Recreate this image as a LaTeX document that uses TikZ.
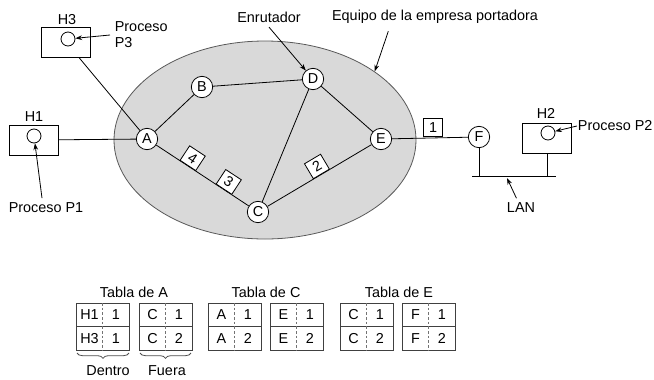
\documentclass[tikz,border=0pt]{standalone}
\usepackage{fontspec}
\setmainfont{Liberation Sans}
\usetikzlibrary{shapes.geometric,arrows.meta,decorations.pathreplacing}

\begin{document}
\begin{tikzpicture}[x=0.75pt,y=-0.75pt,line width=0.6pt,
        every node/.style={font=\fontsize{10.8}{12}\selectfont},
        router/.style={draw,circle,fill=white,minimum size=16pt,inner sep=0pt},
        host/.style={draw,rectangle,minimum width=37pt,minimum height=22.5pt,inner sep=0pt},
        proc/.style={draw,circle,minimum size=10.5pt,inner sep=0pt},
        hop/.style={draw,fill=white,minimum width=14pt,minimum height=13pt,inner sep=1pt},
        ptr/.style={-{Stealth[length=5pt,width=3.5pt]}},
        tblline/.style={draw=black!75},
        tbldiv/.style={draw=black!55,dashed,dash pattern=on 2pt off 1.5pt}]
        \useasboundingbox (0,0) rectangle (654,379);

        % red de la empresa portadora
        \node[ellipse,draw=black!65,fill=black!15,minimum width=226.5pt,minimum height=148.5pt,inner sep=0pt]
          (carrier) at (265,140) {};

        \path
        (147,139) node[router](A) {A}
        (202,87)  node[router](B) {B}
        (313,79)  node[router](D) {D}
        (381,139) node[router](E) {E}
        (258,212) node[router](C) {C}
        (479,137) node[router](F) {F}
        ;

        \path
        (34,140)  node[host](h1) {}
        (34,136)  node[proc](p1) {}
        (34,117)  node(h1name) {H1}
        (66,42)   node[host](h3) {}
        (68,39)   node[proc](p3) {}
        (67,20)   node(h3name) {H3}
        (547,138) node[host](h2) {}
        (548,133) node[proc](p2) {}
        (546,113) node(h2name) {H2}
        ;

        \draw (A) -- (B);
        \draw (B) -- (D);
        \draw (D) -- (C);
        \draw (D) -- (E);
        \draw (A) -- node[pos=0.34,sloped,above,hop](n4) {4}
                     node[pos=0.73,sloped,above,hop](n3) {3} (C);
        \draw (C) -- node[pos=0.52,sloped,above,hop](n2) {2} (E);
        \draw (E) -- node[pos=0.54,above,hop,yshift=1pt](n1) {1} (F);
        \draw (h1) -- (A);
        \draw (h3) -- (A);

        % LAN
        \coordinate (lanL) at (472,176);
        \coordinate (lanR) at (556,176);
        \coordinate (lanhit) at (507,178);
        \draw (lanL) -- (lanR);
        \draw (F) -- (F |- lanL);
        \draw (h2) -- (h2 |- lanL);

        % rotulos
        \node (enr) at (269,17) {Enrutador};
        \node (equipo) at (435,17) {Equipo de la empresa portadora};
        \node[anchor=west,align=left] (pp3) at (110,35) {Proceso\\P3};
        \node (pp1) at (46,208) {Proceso P1};
        \node[anchor=east,inner sep=0.5pt] (pp2) at (653.5,126) {Proceso P2};
        \node (lan) at (521,208) {LAN};
        \draw[ptr] (enr.south) -- (D);
        \draw[ptr] ([xshift=-35pt,yshift=-2pt]equipo.south) -- (carrier.32);
        \draw[ptr] (pp3.west) -- (p3);
        \draw[ptr] ([xshift=-3pt]pp1.north) -- (p1);
        \draw[ptr] (pp2.west) -- (p2);
        \draw[ptr] (lan) -- (lanhit);

        % tablas
        \node (tA) at (134,292) {Tabla de A};
        \node (tC) at (266,292) {Tabla de C};
        \node (tE) at (399,292) {Tabla de E};
        \foreach \x/\a/\i/\b/\j in {76/H1/1/H3/1,139/C/1/C/2,208/A/1/A/2,270/E/1/E/2,340/C/1/C/2,402/F/1/F/2}{
          \draw[tblline] (\x,303) rectangle (\x+53,350);
          \draw[tblline] (\x,326.5) -- (\x+53,326.5);
          \draw[tbldiv] (\x+26.5,303) -- (\x+26.5,350);
          \node (c\x a) at (\x+13.5,315) {\a};
          \node (c\x i) at (\x+40,315) {\i};
          \node (c\x b) at (\x+13.5,338.5) {\b};
          \node (c\x j) at (\x+40,338.5) {\j};
        }
        \draw[black!70,decorate,decoration={brace,mirror,amplitude=4pt}] (77,353) -- (129,353);
        \draw[black!70,decorate,decoration={brace,mirror,amplitude=4pt}] (140,353) -- (191,353);
        \node (dentro) at (108,371) {Dentro};
        \node (fuera) at (167,371) {Fuera};
      \end{tikzpicture}
\end{document}
